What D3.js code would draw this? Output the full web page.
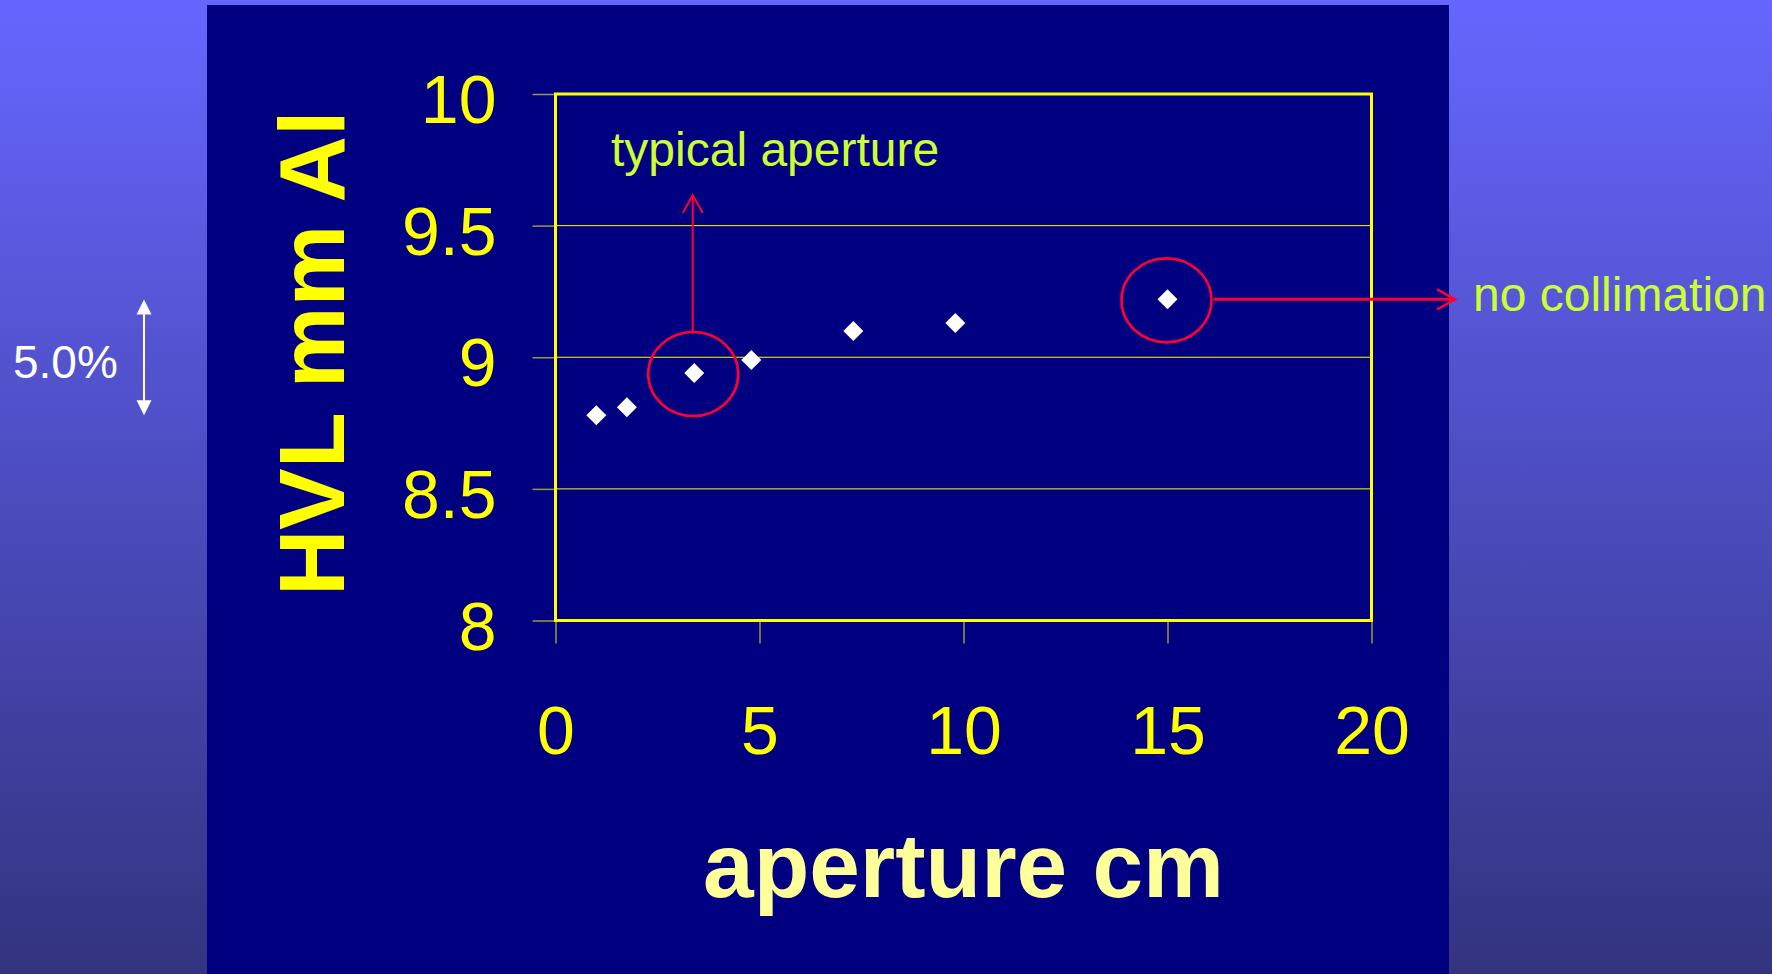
<!DOCTYPE html>
<html>
<head>
<meta charset="utf-8">
<script src="https://cdn.jsdelivr.net/npm/d3@7"></script>
<style>
  html, body { margin: 0; padding: 0; background: #000080; }
  svg { display: block; }
  text { font-family: "Liberation Sans", Arial, sans-serif; }
</style>
</head>
<body>
<svg id="chart" width="1772" height="974"></svg>
<script>
// Half-value layer measured against field aperture
const apertureCm = [1.0, 1.75, 3.4, 4.8, 7.3, 9.8, 15.0];
const hvlMmAl    = [8.78, 8.81, 8.94, 8.99, 9.10, 9.13, 9.22];

const xTickValues = [0, 5, 10, 15, 20];
const yTickValues = [8, 8.5, 9, 9.5, 10];
const gridValues  = [8.5, 9, 9.5];

const typicalIndex = 2;              // point marked "typical aperture"
const openIndex = 6;                 // point measured with no collimation
const spreadPercent = 5.0;           // spread shown beside the axis

const W = 1772, H = 974;
const plot = { left: 555.5, right: 1371.5, top: 94, bottom: 620.5 };

const svg = d3.select("#chart");

// slide background
const defs = svg.append("defs");
const grad = defs.append("linearGradient")
  .attr("id", "bg").attr("x1", 0).attr("y1", 0).attr("x2", 0).attr("y2", 1);
grad.append("stop").attr("offset", "0%").attr("stop-color", "#6666ff");
grad.append("stop").attr("offset", "100%").attr("stop-color", "#333380");
svg.append("rect").attr("width", W).attr("height", H).attr("fill", "url(#bg)");

// chart panel
svg.append("rect")
  .attr("x", 207).attr("y", 5).attr("width", 1242).attr("height", H - 5)
  .attr("fill", "#000080");

const x = d3.scaleLinear().domain([0, 20]).range([plot.left, plot.right]);
const y = d3.scaleLinear().domain([8, 10]).range([plot.bottom, plot.top]);

// horizontal gridlines
svg.append("g").selectAll("line").data(gridValues).join("line")
  .attr("x1", plot.left).attr("x2", plot.right)
  .attr("y1", d => y(d)).attr("y2", d => y(d))
  .attr("stroke", "#ffff00").attr("stroke-width", 1);

// y axis
const yAxis = svg.append("g")
  .attr("transform", `translate(${plot.left},0)`)
  .call(d3.axisLeft(y).tickValues(yTickValues).tickSize(23).tickPadding(36)
    .tickFormat(d3.format("")));
yAxis.select(".domain").remove();
yAxis.selectAll(".tick line").attr("stroke", "#9a9a40").attr("stroke-width", 1.5);
yAxis.selectAll(".tick text")
  .attr("fill", "#ffff00").attr("font-size", 68).attr("dy", "0.42em")
  .style("font-family", "'Liberation Sans', Arial, sans-serif");

// x axis
const xAxis = svg.append("g")
  .attr("transform", `translate(0,${plot.bottom})`)
  .call(d3.axisBottom(x).tickValues(xTickValues).tickSize(23).tickPadding(62)
    .tickFormat(d3.format("")));
xAxis.select(".domain").remove();
xAxis.selectAll(".tick line").attr("stroke", "#9a9a40").attr("stroke-width", 1.5);
xAxis.selectAll(".tick text")
  .attr("fill", "#ffff00").attr("font-size", 68)
  .style("font-family", "'Liberation Sans', Arial, sans-serif");

// plot frame
svg.append("rect")
  .attr("x", plot.left).attr("y", plot.top)
  .attr("width", plot.right - plot.left).attr("height", plot.bottom - plot.top)
  .attr("fill", "none").attr("stroke", "#ffff00").attr("stroke-width", 3);

// axis titles
svg.append("text")
  .attr("transform", `translate(344,${(plot.top + plot.bottom) / 2 - 4}) rotate(-90)`)
  .attr("text-anchor", "middle")
  .attr("font-size", 92).attr("font-weight", "bold").attr("fill", "#ffff00")
  .text("HVL mm Al");

svg.append("text")
  .attr("x", (plot.left + plot.right) / 2).attr("y", 897)
  .attr("text-anchor", "middle")
  .attr("font-size", 91).attr("font-weight", "bold").attr("fill", "#ffff99")
  .text("aperture cm");

// data points
const points = apertureCm.map((a, i) => ({ a, h: hvlMmAl[i] }));
svg.append("g").selectAll("path").data(points).join("path")
  .attr("d", d3.symbol(d3.symbolSquare, 200))
  .attr("transform", d => `translate(${x(d.a)},${y(d.h)}) rotate(45)`)
  .attr("fill", "#ffffff");

// annotations
const red = "#ff0033";
const rx = 45, ry = 42;

function ring(p) {
  svg.append("ellipse")
    .attr("cx", x(p.a) - 1).attr("cy", y(p.h) + 1)
    .attr("rx", rx).attr("ry", ry)
    .attr("fill", "none").attr("stroke", red).attr("stroke-width", 2.6);
}

const typ = points[typicalIndex];
ring(typ);
{
  const ax = x(typ.a) - 1.5;
  const y0 = y(typ.h) + 1 - ry;
  const tip = y(9.616);
  svg.append("line").attr("x1", ax).attr("x2", ax).attr("y1", y0).attr("y2", tip)
    .attr("stroke", red).attr("stroke-width", 2);
  svg.append("path")
    .attr("d", `M${ax - 10},${tip + 18}L${ax},${tip}L${ax + 10},${tip + 18}`)
    .attr("fill", "none").attr("stroke", red).attr("stroke-width", 2);
  svg.append("text")
    .attr("x", 611).attr("y", 166)
    .attr("font-size", 48).attr("fill", "#ccff33")
    .text("typical aperture");
}

const open = points[openIndex];
ring(open);
{
  const ay = y(open.h);
  const x0 = x(open.a) - 1 + rx + 2;
  const tip = x(22.05);
  svg.append("line").attr("x1", x0).attr("x2", tip).attr("y1", ay).attr("y2", ay)
    .attr("stroke", red).attr("stroke-width", 3);
  svg.append("path")
    .attr("d", `M${tip - 18},${ay - 10}L${tip},${ay}L${tip - 18},${ay + 10}`)
    .attr("fill", "none").attr("stroke", red).attr("stroke-width", 2.5);
  svg.append("text")
    .attr("x", 1473).attr("y", 311)
    .attr("font-size", 48).attr("fill", "#ccff33")
    .text("no collimation");
}

// spread marker: lowest reading and that reading plus the stated percentage
{
  const low = d3.min(hvlMmAl);
  const high = low * (1 + spreadPercent / 100);
  const ax = 144;
  const yLow = y(low), yHigh = y(high);
  svg.append("line").attr("x1", ax).attr("x2", ax)
    .attr("y1", yHigh + 12).attr("y2", yLow - 12)
    .attr("stroke", "#ffffff").attr("stroke-width", 2);
  svg.append("path")
    .attr("d", `M${ax},${yHigh}L${ax + 7.5},${yHigh + 15}L${ax - 7.5},${yHigh + 15}Z`)
    .attr("fill", "#ffffff");
  svg.append("path")
    .attr("d", `M${ax},${yLow}L${ax + 7.5},${yLow - 15}L${ax - 7.5},${yLow - 15}Z`)
    .attr("fill", "#ffffff");
  svg.append("text")
    .attr("x", 13).attr("y", 378)
    .attr("font-size", 46).attr("fill", "#ffffff")
    .text(d3.format(".1f")(spreadPercent) + "%");
}
</script>
</body>
</html>
